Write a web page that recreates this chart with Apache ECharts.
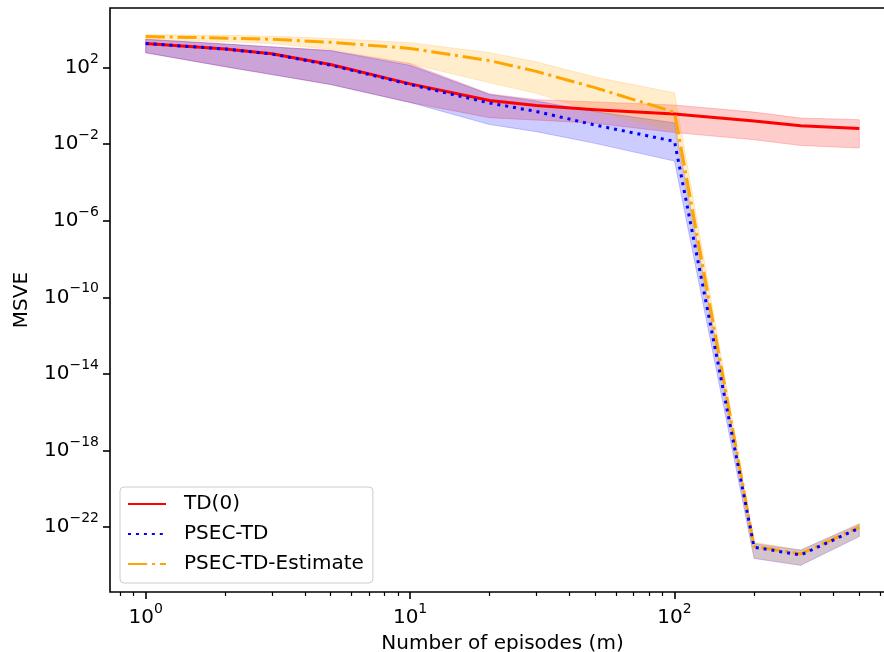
<!DOCTYPE html>
<html>
<head>
<meta charset="utf-8">
<script src="https://cdn.jsdelivr.net/npm/echarts@6/dist/echarts.min.js"></script>
<style>
  html, body { margin: 0; padding: 0; background: #ffffff; overflow: hidden; }
  #chart { width: 884px; height: 652px; }
</style>
</head>
<body>
<div id="chart"></div>
<script>
// Number of episodes m
const episodes = [1, 2, 3, 5, 10, 20, 30, 50, 100, 200, 300, 500];

// TD(0): mean MSVE and shaded spread
const td0Mean  = [1.8e3, 9.3e2, 5.2e2, 1.45e2, 1.4e1, 1.9, 1.05, 6.3e-1, 3.8e-1, 1.6e-1, 9.1e-2, 6.5e-2];
const td0Upper = [3.0e3, 1.7e3, 1.2e3, 7.9e2, 1.6e2, 4.2, 2.1, 1.6, 1.1, 4.7e-1, 2.3e-1, 1.9e-1];
const td0Lower = [5.9e2, 1.1e2, 4.3e1, 1.3e1, 1.5, 2.4e-1, 1.8e-1, 1.25e-1, 4.0e-2, 1.7e-2, 8.5e-3, 6.3e-3];

// PSEC-TD
const psecMean  = [1.8e3, 9.3e2, 5.1e2, 1.35e2, 1.3e1, 1.4, 5.1e-1, 1.0e-1, 1.4e-2, 8.9e-24, 3.5e-24, 8.9e-23];
const psecUpper = [3.0e3, 1.7e3, 1.2e3, 7.6e2, 1.3e2, 3.9, 1.8, 5.0e-1, 1.3e-1, 1.4e-23, 6.3e-24, 1.4e-22];
const psecLower = [5.9e2, 1.1e2, 4.3e1, 1.3e1, 1.5, 1.05e-1, 4.5e-2, 1.1e-2, 1.3e-3, 2.3e-24, 1.0e-24, 3.2e-23];

// PSEC-TD-Estimate
const estMean  = [4.2e3, 3.4e3, 3.0e3, 2.1e3, 1.0e3, 2.3e2, 6.3e1, 8.9, 4.7e-1, 1.0e-23, 4.0e-24, 1.0e-22];
const estUpper = [5.2e3, 4.8e3, 4.3e3, 3.3e3, 2.0e3, 6.0e2, 2.0e2, 3.2e1, 4.8, 1.6e-23, 6.3e-24, 1.6e-22];
const estLower = [2.8e3, 2.2e3, 1.8e3, 8.9e2, 1.6e2, 1.6e1, 4.5, 5.0e-1, 4.7e-2, 2.5e-24, 1.1e-24, 3.5e-23];

// Axis ranges and tick positions
const xRange = [Math.pow(10, -0.135), Math.pow(10, 2.834)];
const yRange = [Math.pow(10, -25.39), Math.pow(10, 5.11)];
const xMajorTicks = [1, 10, 100];
const xMinorTicks = [0.8, 0.9, 2, 3, 4, 5, 6, 7, 8, 9, 20, 30, 40, 50, 60, 70, 80, 90, 200, 300, 400, 500, 600];
const yMajorTicks = [1e2, 1e-2, 1e-6, 1e-10, 1e-14, 1e-18, 1e-22];

const FONT = 'DejaVu Sans';
const FONT_SIZE = 20;
const BLACK = '#000000';

function pairs(xs, ys) { return xs.map((x, i) => [x, ys[i]]); }

function powerLabel(v) {
  const e = Math.round(Math.log10(v));
  const s = e < 0 ? '\u2212' + (-e) : String(e);
  return '{b|10}{s|' + s + '}';
}
const powerRich = {
  b: { fontFamily: FONT, fontSize: FONT_SIZE, color: BLACK, lineHeight: 31 },
  s: { fontFamily: FONT, fontSize: 14, color: BLACK, lineHeight: 14, verticalAlign: 'top' }
};

// Shaded spread between lower and upper, drawn as one polygon in axis coordinates
function band(key, lower, upper, rgb) {
  const fill = 'rgba(' + rgb + ',0.2)';
  return {
    name: key + '-band', type: 'custom', z: 1, silent: true, clip: true,
    data: episodes.map((x, i) => [x, lower[i], upper[i]]),
    encode: { x: 0, y: [1, 2] },
    renderItem: function (params, api) {
      if (params.dataIndex !== 0) return null;
      const top = episodes.map((x, i) => api.coord([x, upper[i]]));
      const bottom = episodes.map((x, i) => api.coord([x, lower[i]])).reverse();
      return {
        type: 'polygon',
        shape: { points: top.concat(bottom) },
        style: { fill: fill, stroke: fill, lineWidth: 1 }
      };
    }
  };
}

function meanLine(name, values, color, type) {
  return {
    name: name, type: 'line', z: 2, symbol: 'none', data: pairs(episodes, values),
    lineStyle: { width: 3, color: color, type: type, cap: 'butt', join: 'round' },
    itemStyle: { color: color },
    emphasis: { disabled: true }
  };
}

const chart = echarts.init(document.getElementById('chart'), null, { renderer: 'canvas' });

chart.setOption({
  animation: false,
  backgroundColor: '#ffffff',
  grid: {
    left: 110, right: -11, top: 8, bottom: 60,
    outerBoundsMode: 'none', containLabel: false,
    show: true, borderColor: BLACK, borderWidth: 1.6, backgroundColor: 'transparent'
  },
  legend: {
    data: ['TD(0)', 'PSEC-TD', 'PSEC-TD-Estimate'],
    orient: 'vertical', left: 120, top: 487,
    itemWidth: 38, itemHeight: 20, itemGap: 10,
    padding: [7, 9, 9, 7],
    backgroundColor: 'rgba(255,255,255,0.8)',
    borderColor: '#cccccc', borderWidth: 1, borderRadius: 4,
    itemStyle: { opacity: 0 },
    textStyle: { fontFamily: FONT, fontSize: FONT_SIZE, color: BLACK, padding: [0, 0, 0, 13] }
  },
  xAxis: [
    {
      type: 'log', logBase: 10, min: xRange[0], max: xRange[1],
      name: 'Number of episodes (m)', nameLocation: 'middle', nameGap: 42,
      nameTextStyle: { fontFamily: FONT, fontSize: FONT_SIZE, color: BLACK },
      axisLine: { show: false },
      axisTick: { show: true, length: 7, customValues: xMajorTicks, lineStyle: { color: BLACK, width: 1.6 } },
      axisLabel: { customValues: xMajorTicks, margin: 10, formatter: powerLabel, rich: powerRich },
      splitLine: { show: false }, minorTick: { show: false }
    },
    {
      type: 'log', logBase: 10, min: xRange[0], max: xRange[1], position: 'bottom',
      axisLine: { show: false },
      axisTick: { show: true, length: 4, customValues: xMinorTicks, lineStyle: { color: BLACK, width: 1.2 } },
      axisLabel: { show: false },
      splitLine: { show: false }
    }
  ],
  yAxis: {
    type: 'log', logBase: 10, min: yRange[0], max: yRange[1],
    name: 'MSVE', nameLocation: 'middle', nameGap: 78, nameRotate: 90,
    nameTextStyle: { fontFamily: FONT, fontSize: FONT_SIZE, color: BLACK },
    axisLine: { show: false },
    axisTick: { show: true, length: 7, customValues: yMajorTicks, lineStyle: { color: BLACK, width: 1.6 } },
    axisLabel: { customValues: yMajorTicks, margin: 11, formatter: powerLabel, rich: powerRich },
    splitLine: { show: false }
  },
  series: [
    band('td0', td0Lower, td0Upper, '255,0,0'),
    band('psec', psecLower, psecUpper, '0,0,255'),
    band('est', estLower, estUpper, '255,165,0'),
    meanLine('TD(0)', td0Mean, '#ff0000', 'solid'),
    meanLine('PSEC-TD-Estimate', estMean, '#ffa500', [19.2, 4.8, 3, 4.8]),
    meanLine('PSEC-TD', psecMean, '#0000ff', [3, 4.95])
  ]
});
</script>
</body>
</html>
